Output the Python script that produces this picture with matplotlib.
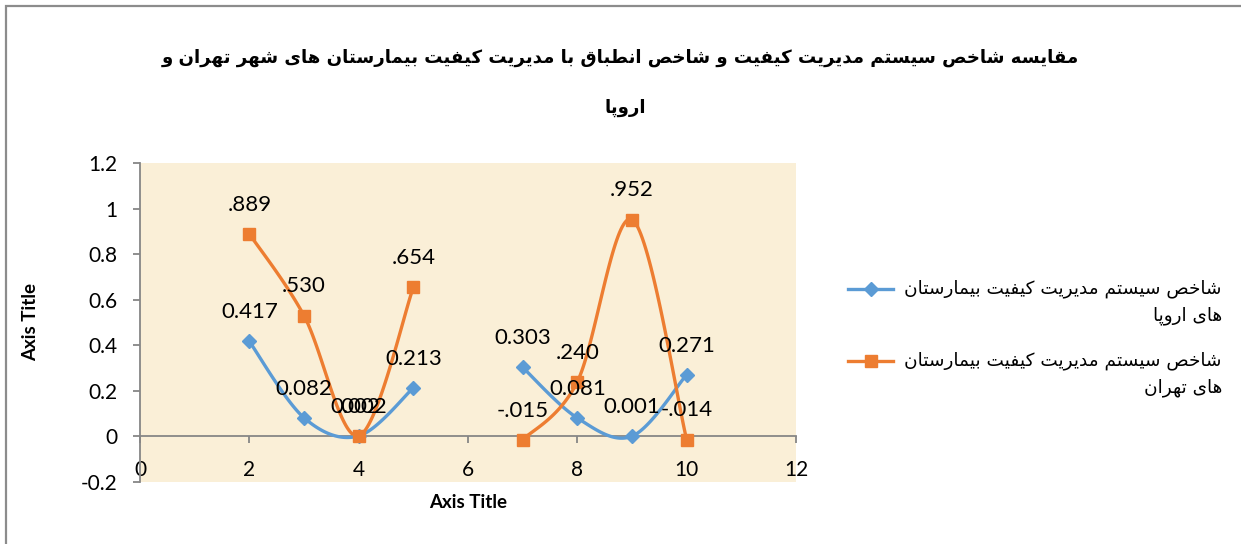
import numpy as np
import matplotlib
matplotlib.use("Agg")
import matplotlib.pyplot as plt
from matplotlib.lines import Line2D
from matplotlib.patches import Rectangle
from matplotlib.ticker import FuncFormatter, MultipleLocator

W, H = 1241, 544

# ---- data -------------------------------------------------------------
x_vals = [2, 3, 4, 5, 7, 8, 9, 10]
europe = [0.417, 0.082, 0.002, 0.213, 0.303, 0.081, 0.001, 0.271]
tehran = [0.889, 0.530, 0.002, 0.654, -0.015, 0.240, 0.952, -0.014]

title_line1 = "مقایسه شاخص سیستم مدیریت کیفیت و شاخص انطباق با مدیریت کیفیت بیمارستان های شهر تهران و"
title_line2 = "اروپا"
legend_europe = ["شاخص سیستم مدیریت کیفیت بیمارستان", "های اروپا"]
legend_tehran = ["شاخص سیستم مدیریت کیفیت بیمارستان", "های تهران"]
x_axis_title = "Axis Title"
y_axis_title = "Axis Title"

BLUE = "#5B9BD5"
ORANGE = "#ED7D31"
AXIS_GRAY = "#868686"

# ---- Arabic-script shaping (presentation forms + right-to-left order) --
FORMS = {
    'ا': ('\uFE8D', '\uFE8E', None, None),
    'ب': ('\uFE8F', '\uFE90', '\uFE91', '\uFE92'),
    'پ': ('\uFB56', '\uFB57', '\uFB58', '\uFB59'),
    'ت': ('\uFE95', '\uFE96', '\uFE97', '\uFE98'),
    'خ': ('\uFEA5', '\uFEA6', '\uFEA7', '\uFEA8'),
    'د': ('\uFEA9', '\uFEAA', None, None),
    'ر': ('\uFEAD', '\uFEAE', None, None),
    'س': ('\uFEB1', '\uFEB2', '\uFEB3', '\uFEB4'),
    'ش': ('\uFEB5', '\uFEB6', '\uFEB7', '\uFEB8'),
    'ص': ('\uFEB9', '\uFEBA', '\uFEBB', '\uFEBC'),
    'ط': ('\uFEC1', '\uFEC2', '\uFEC3', '\uFEC4'),
    'ف': ('\uFED1', '\uFED2', '\uFED3', '\uFED4'),
    'ق': ('\uFED5', '\uFED6', '\uFED7', '\uFED8'),
    'ک': ('\uFB8E', '\uFB8F', '\uFB90', '\uFB91'),
    'م': ('\uFEE1', '\uFEE2', '\uFEE3', '\uFEE4'),
    'ن': ('\uFEE5', '\uFEE6', '\uFEE7', '\uFEE8'),
    'ه': ('\uFEE9', '\uFEEA', '\uFEEB', '\uFEEC'),
    'و': ('\uFEED', '\uFEEE', None, None),
    'ی': ('\uFBFC', '\uFBFD', '\uFBFE', '\uFBFF'),
}


def shape(text):
    chars = list(text)
    out = []
    for i, c in enumerate(chars):
        if c not in FORMS:
            out.append(c)
            continue
        iso, fin, ini, med = FORMS[c]
        prev = chars[i - 1] if i > 0 else None
        nxt = chars[i + 1] if i + 1 < len(chars) else None
        join_prev = prev in FORMS and FORMS[prev][2] is not None
        join_next = nxt in FORMS and ini is not None
        if join_prev and join_next:
            out.append(med)
        elif join_prev:
            out.append(fin)
        elif join_next:
            out.append(ini)
        else:
            out.append(iso)
    return "".join(reversed(out))


def smooth(xs, ys, n=40):
    """Bezier smoothing through points (Catmull-Rom tangents, tension 1/6)."""
    pts = np.column_stack([xs, ys]).astype(float)
    out = []
    for i in range(len(pts) - 1):
        p0 = pts[i - 1] if i > 0 else pts[i]
        p1 = pts[i]
        p2 = pts[i + 1]
        p3 = pts[i + 2] if i + 2 < len(pts) else pts[i + 1]
        c1 = p1 + (p2 - p0) / 6.0
        c2 = p2 - (p3 - p1) / 6.0
        t = np.linspace(0, 1, n)[:, None]
        seg = ((1 - t) ** 3) * p1 + 3 * ((1 - t) ** 2) * t * c1 + 3 * (1 - t) * t ** 2 * c2 + t ** 3 * p2
        out.append(seg if i == 0 else seg[1:])
    s = np.vstack(out)
    return s[:, 0], s[:, 1]


def runs(xs, ys):
    """Split the series wherever a category is missing."""
    groups, cur = [], [0]
    for i in range(1, len(xs)):
        if xs[i] - xs[i - 1] > 1:
            groups.append(cur)
            cur = []
        cur.append(i)
    groups.append(cur)
    return [([xs[i] for i in g], [ys[i] for i in g]) for g in groups]


# ---- figure -------------------------------------------------------------
fig = plt.figure(figsize=(W / 100, H / 100), dpi=100)
fig.patch.set_facecolor("white")

# chart frame
fig.add_artist(Rectangle((6 / W, -0.1), 1.2, 1 - 6 / H + 0.1, transform=fig.transFigure,
                         fill=False, edgecolor="#8C8C8C", lw=1.6))

ax = fig.add_axes([140 / W, 1 - 482 / H, (796 - 140) / W, (482 - 163) / H])
ax.set_facecolor("#FAEFD7")
ax.set_xlim(0, 12)
ax.set_ylim(-0.2, 1.2)

for side in ("top", "right"):
    ax.spines[side].set_visible(False)
ax.spines["left"].set_color(AXIS_GRAY)
ax.spines["left"].set_linewidth(1.3)
ax.spines["bottom"].set_position(("data", 0))
ax.spines["bottom"].set_color(AXIS_GRAY)
ax.spines["bottom"].set_linewidth(1.3)

ax.xaxis.set_major_locator(MultipleLocator(2))
ax.yaxis.set_major_locator(MultipleLocator(0.2))
ax.yaxis.set_major_formatter(FuncFormatter(lambda v, p: "%g" % round(v, 1)))
ax.xaxis.set_major_formatter(FuncFormatter(lambda v, p: "%g" % v))
ax.tick_params(axis="y", direction="out", length=5, width=1.3, color=AXIS_GRAY,
               labelsize=15, pad=11, labelfontfamily="Lato")
ax.tick_params(axis="x", direction="out", length=5, width=1.3, color=AXIS_GRAY,
               labelsize=15, pad=12, labelfontfamily="Lato")

# series
series = [
    (europe, BLUE, "D", 7, lambda v: f"{v:.3f}"),
    (tehran, ORANGE, "s", 8, lambda v: f"{v:.3f}".replace("0.", ".", 1)),
]
for vals, col, mk, ms, fmt in series:
    for xs, ys in runs(x_vals, vals):
        sx, sy = smooth(xs, ys)
        ax.plot(sx, sy, color=col, lw=2.4, solid_capstyle="round", zorder=3)
        ax.plot(xs, ys, linestyle="none", marker=mk, markersize=ms, color=col, zorder=4)
    for xv, yv in zip(x_vals, vals):
        ax.annotate(fmt(yv), (xv, yv), xytext=(0, 21), textcoords="offset points",
                    ha="center", va="center", fontsize=16, family="Lato", color="black",
                    zorder=5)

ax.set_xlabel(x_axis_title, fontsize=13.5, fontweight="bold", family="Lato")
ax.xaxis.set_label_coords(0.5, -(502 - 482) / (482 - 163), transform=ax.transAxes)
ax.xaxis.label.set_va("center")
ax.set_ylabel(y_axis_title, fontsize=13.5, fontweight="bold", family="Lato")
ax.yaxis.set_label_coords(-(140 - 31) / (796 - 140), (482 - 322) / (482 - 163))
ax.yaxis.label.set_va("center")


def fx(px):
    return px / W


def fy(py):
    return 1 - py / H


# title
fig.text(0.5, fy(58), shape(title_line1), ha="center", va="center",
         fontsize=13.1, fontweight="bold", family="DejaVu Sans")
fig.text(fx(625), fy(108), shape(title_line2), ha="center", va="center",
         fontsize=13.1, fontweight="bold", family="DejaVu Sans")

# legend
for (lines, col, mk, ms), yy in zip([(legend_europe, BLUE, "D", 7), (legend_tehran, ORANGE, "s", 8)],
                                    [289, 361]):
    fig.add_artist(Line2D([fx(848), fx(893)], [fy(yy), fy(yy)], transform=fig.transFigure,
                          color=col, lw=2.4))
    fig.add_artist(Line2D([fx(870.5)], [fy(yy)], transform=fig.transFigure, color=col,
                          marker=mk, markersize=ms, linestyle="none"))
    fig.text(fx(1222), fy(yy), shape(lines[0]), ha="right", va="center", fontsize=13.3,
             family="DejaVu Sans")
    fig.text(fx(1222), fy(yy + 27), shape(lines[1]), ha="right", va="center", fontsize=13.3,
             family="DejaVu Sans")

fig.savefig("out.png", dpi=100)
